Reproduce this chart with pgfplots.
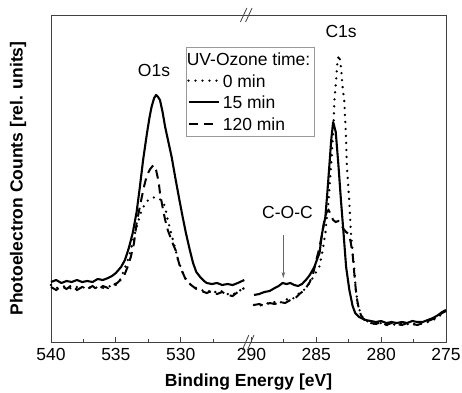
\documentclass[border=0pt]{standalone}
\usepackage{fontspec}
\setmainfont{Liberation Sans}
\usepackage{pgfplots}
\usepackage{pgfplotstable}
\pgfplotsset{compat=1.18}
\usetikzlibrary{arrows.meta}

% O1s region (left segment): E [eV], counts (rel.)
\pgfplotstableread{
E h
540.0 60
539.6 62
539.2 59
538.8 61
538.4 60
538.0 62
537.6 60
537.2 61
536.8 60
536.4 63
536.0 62
535.6 64
535.3 66
535.0 69
534.6 75
534.3 82
534.0 94
533.7 109
533.4 130
533.15 155
532.9 182
532.6 209
532.4 225
532.25 235
532.05 244
531.9 247
531.75 245
531.6 242
531.4 230
531.2 215
530.95 200
530.7 185
530.4 163
530.1 142
529.85 125
529.6 109
529.3 92
529.05 79
528.8 70
528.5 65
528.2 61
528.0 59
527.6 58
527.2 59
526.8 57
526.4 58
526.0 57
525.6 59
525.1 62
}\solidL

\pgfplotstableread{
E h
540.0 55
539.6 52
539.2 56
538.8 53
538.4 57
538.0 52
537.6 55
537.2 53
536.8 56
536.4 52
536.0 56
535.6 54
535.2 57
534.9 59
534.4 65
534.1 75
533.85 85
533.6 99
533.4 119
533.2 132
533.0 145
532.8 157
532.6 167
532.35 173
532.1 177
531.9 172
531.7 160
531.6 149
531.4 135
531.2 122
531.0 112
530.8 105
530.6 98
530.4 92
530.2 82
530.05 75
529.8 68
529.6 62
529.2 57
528.8 53
528.4 51
528.0 49
527.6 51
527.2 48
526.8 50
526.4 47
526.0 46
525.6 50
525.1 54
}\dashL

\pgfplotstableread{
E h
540.0 57
539.6 54
539.2 55
538.8 56
538.4 53
538.0 55
537.6 54
537.2 56
536.8 53
536.4 55
536.0 54
535.6 56
535.2 55
534.9 58
534.6 64
534.4 71
534.15 79
533.95 87
533.8 95
533.6 105
533.4 115
533.2 124
533.0 132
532.75 138
532.5 142
532.2 144
531.95 145
531.7 143
531.5 142
531.3 138
531.2 135
531.0 122
530.8 112
530.6 102
530.4 92
530.2 82
529.95 73
529.7 65
529.45 60
529.2 57
528.8 54
528.4 52
528.0 50
527.6 52
527.2 49
526.8 51
526.4 48
526.0 47
525.6 51
525.1 53
}\dotL

% C1s region (right segment)
\pgfplotstableread{
E h
289.8 47
289.4 48
289.0 50
288.6 51
288.2 54
287.9 56
287.6 59
287.3 58
287.0 59
286.7 57
286.4 56
286.1 58
285.8 62
285.5 67
285.15 75
284.9 84
284.75 89
284.55 109
284.3 125
284.15 149
284.0 175
283.85 202
283.7 220
283.5 210
283.3 178
283.1 142
282.9 109
282.7 75
282.45 52
282.2 36
282.0 29
281.7 25
281.2 22
280.8 21
280.4 20
280.0 21
279.6 19
279.2 20
278.8 19
278.4 20
278.0 19
277.6 21
277.2 20
276.8 20
276.4 22
276.0 24
275.6 27
275.3 30
275.0 32
}\solidR

\pgfplotstableread{
E h
289.8 37
289.4 38
289.0 36
288.6 39
288.2 38
287.8 40
287.4 39
287.0 42
286.6 44
286.3 48
286.0 51
285.8 54
285.5 60
285.25 68
285.0 82
284.8 92
284.6 105
284.4 120
284.2 130
284.05 132
283.9 128
283.7 122
283.5 120
283.3 121
283.1 118
282.9 113
282.7 110
282.5 108
282.35 100
282.2 88
282.08 70
281.95 52
281.85 42
281.7 32
281.5 25
281.2 21
280.8 19
280.4 18
280.0 20
279.6 17
279.2 19
278.8 18
278.4 17
278.0 19
277.6 18
277.2 17
276.8 19
276.4 21
276.0 23
275.6 26
275.3 29
275.0 31
}\dashR

\pgfplotstableread{
E h
289.8 37
289.4 36
289.0 38
288.6 39
288.2 40
287.8 39
287.4 43
287.0 42
286.6 45
286.3 49
286.0 51
285.8 55
285.5 59
285.2 66
284.77 75
284.5 92
284.3 109
284.05 142
283.87 175
283.7 209
283.6 242
283.49 259
283.36 282
283.23 287
283.1 275
282.97 255
282.85 242
282.72 209
282.64 175
282.46 142
282.33 109
282.2 90
282.08 75
281.95 52
281.8 38
281.6 29
281.4 24
281.1 21
280.8 19
280.4 18
280.0 19
279.6 17
279.2 18
278.8 17
278.4 19
278.0 18
277.6 17
277.2 19
276.8 18
276.4 20
276.0 22
275.6 25
275.3 28
275.0 30
}\dotR

\tikzset{
  solidS/.style={black, line width=2.1pt, line join=round, solid},
  dotS/.style={black, line width=2.6pt, line cap=round, dash pattern=on 0pt off 7pt},
  dashS/.style={black, line width=2pt, dash pattern=on 9pt off 6pt},
}

\begin{document}
\fontsize{17.5}{21}\selectfont
\begin{tikzpicture}
\begin{axis}[
  scale only axis, width=395pt, height=327pt,
  xmin=0, xmax=30.45, ymin=0, ymax=327,
  xtick={0,5,10,15.45,20.45,25.45,30.45},
  xticklabels={540,535,530,290,285,280,275},
  minor xtick={2.5,7.5,12.5,17.95,22.95,27.95},
  ytick=\empty,
  xtick pos=left,
  tick align=inside,
  major tick length=5pt, minor tick length=3pt,
  axis line style={black!75, line width=0.9pt},
  tick style={black!75, line width=0.8pt},
  tick label style={font=\fontsize{17.5}{21}\selectfont},
  label style={font=\fontsize{17.5}{21}\selectfont\bfseries},
  xlabel={Binding Energy [eV]},
  ylabel={Photoelectron Counts [rel. units]},
  xlabel style={at={(axis description cs:0.5,-0.122)}, anchor=center},
  ylabel style={at={(axis description cs:-0.0835,0.5)}, anchor=center},
  clip=false,
  legend cell align=left,
  legend image code/.code={\draw[#1] (0pt,0pt) -- (30pt,0pt);},
  legend style={at={(axis cs:10.41,295)}, anchor=north west,
    draw=black!40, fill=white,
    font=\fontsize{17.5}{21}\selectfont,
    inner xsep=1pt, inner ysep=1pt, row sep=0pt,
    nodes={inner xsep=3pt, inner ysep=1.5pt},
    /tikz/every even column/.append style={text height=16pt, text depth=2.3pt}},
]
\addlegendimage{empty legend}
\addlegendentry{\hspace*{-36pt}UV-Ozone time:}
\addlegendimage{dotS}
\addlegendentry{0 min}
\addlegendimage{solidS}
\addlegendentry{15 min}
\addlegendimage{dashS}
\addlegendentry{120 min}

\addplot[dotS, forget plot] table[x expr=540-\thisrowno{0}, y index=1] {\dotL};
\addplot[dashS, forget plot] table[x expr=540-\thisrowno{0}, y index=1] {\dashL};
\addplot[solidS, forget plot] table[x expr=540-\thisrowno{0}, y index=1] {\solidL};
\addplot[dotS, forget plot] table[x expr=305.45-\thisrowno{0}, y index=1] {\dotR};
\addplot[dashS, forget plot] table[x expr=305.45-\thisrowno{0}, y index=1] {\dashR};
\addplot[solidS, forget plot] table[x expr=305.45-\thisrowno{0}, y index=1] {\solidR};

\node at (axis cs:7.94,272) {O1s};
\node at (axis cs:22.36,311) {C1s};
\node at (axis cs:18.23,130) {C-O-C};
\draw[-{Stealth[length=6pt,width=3.5pt]}, black!60, line width=0.6pt] (axis cs:17.91,107) -- (axis cs:17.91,64);

% axis break marks
\draw[black!75, line width=0.8pt] (axis cs:14.75,-8) -- (axis cs:15.25,7);
\draw[black!75, line width=0.8pt] (axis cs:15.15,-8) -- (axis cs:15.65,7);
\draw[black!75, line width=0.8pt] (axis cs:14.6,320) -- (axis cs:15.1,334);
\draw[black!75, line width=0.8pt] (axis cs:15.0,320) -- (axis cs:15.5,334);

\coordinate (sw) at (rel axis cs:0,0);
\coordinate (ne) at (rel axis cs:1,1);
\end{axis}
\pgfresetboundingbox
\path (sw) ++(-51pt,-50pt) rectangle ([xshift=16pt,yshift=15pt]ne);
\end{tikzpicture}
\end{document}
